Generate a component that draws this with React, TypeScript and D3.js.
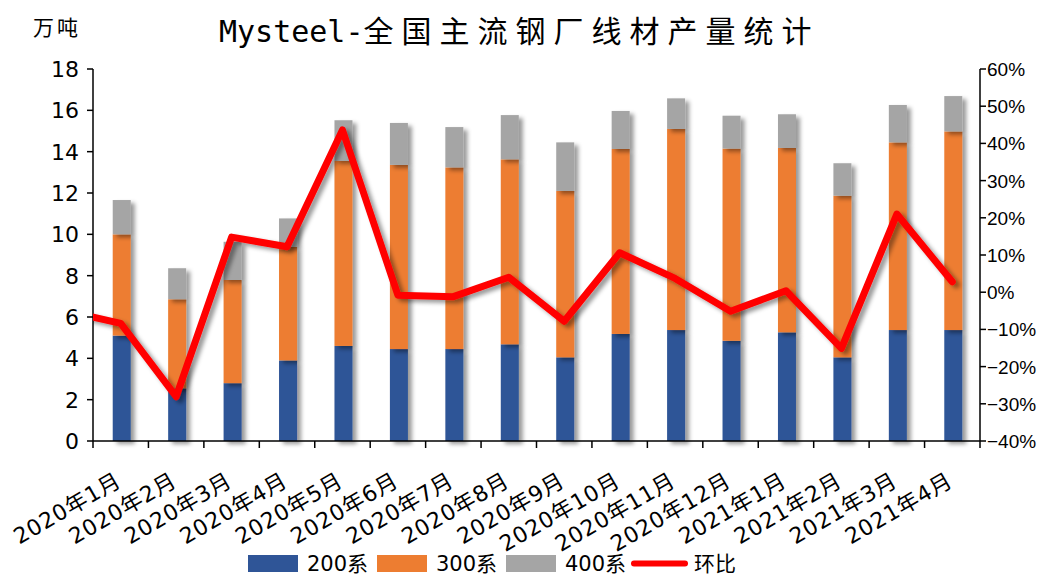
import * as d3 from 'd3';

const months = [
  '2020年1月', '2020年2月', '2020年3月', '2020年4月', '2020年5月', '2020年6月',
  '2020年7月', '2020年8月', '2020年9月', '2020年10月', '2020年11月', '2020年12月',
  '2021年1月', '2021年2月', '2021年3月', '2021年4月',
];

// 万吨
const s200 = [5.1, 2.55, 2.8, 3.9, 4.6, 4.45, 4.45, 4.68, 4.05, 5.18, 5.37, 4.85, 5.26, 4.05, 5.37, 5.37];
const s300 = [4.9, 4.31, 4.99, 5.5, 8.95, 8.91, 8.79, 8.95, 8.05, 8.95, 9.73, 9.3, 8.92, 7.82, 9.08, 9.61];
const s400 = [1.66, 1.5, 1.85, 1.37, 1.97, 2.03, 1.95, 2.14, 2.35, 1.84, 1.48, 1.59, 1.63, 1.57, 1.81, 1.71];

// 环比 (%), first value belongs to the month before the chart window
const hbPrev = -5.0;
const hb = [-8.4, -28.1, 14.8, 12.2, 43.6, -0.8, -1.2, 4.0, -7.8, 10.6, 3.7, -5.1, 0.4, -15.1, 21.0, 2.8];

const leftTicks = [0, 2, 4, 6, 8, 10, 12, 14, 16, 18];
const rightTicks = [-40, -30, -20, -10, 0, 10, 20, 30, 40, 50, 60];

const colors = { s200: '#2F5597', s300: '#ED7D31', s400: '#A5A5A5', hb: '#FF0000' };
const seriesNames = ['200系', '300系', '400系', '环比'];

const W = 1040, H = 576;
const m = { left: 93, right: 980, top: 69, bottom: 441 };
const FONT = 'DejaVu Sans, "Noto Sans CJK SC", sans-serif';

export default function App() {
  const x = d3.scaleBand<string>().domain(months).range([m.left, m.right]).padding(0);
  const y = d3.scaleLinear().domain([0, 18]).range([m.bottom, m.top]);
  const y2 = d3.scaleLinear().domain([-40, 60]).range([m.bottom, m.top]);
  const bw = x.bandwidth();
  const barW = 18;
  const cx = (i: number) => m.left + bw * (i + 0.5);

  const stackData = months.map((mo, i) => ({ month: mo, s200: s200[i], s300: s300[i], s400: s400[i] }));
  const stack = d3.stack<any>().keys(['s200', 's300', 's400'])(stackData);

  const linePts: [number, number][] = [[cx(-1), y2(hbPrev)], ...hb.map((v, i) => [cx(i), y2(v)] as [number, number])];
  const line = d3.line()(linePts) || '';

  const legend = [
    { x: 248, key: 's200', name: seriesNames[0] },
    { x: 377, key: 's300', name: seriesNames[1] },
    { x: 506, key: 's400', name: seriesNames[2] },
  ];

  return (
    <svg width={W} height={H} style={{ position: 'absolute', left: 0, top: 0, background: '#fff' }}>
      <defs>
        <filter id="shadow" x="-50%" y="-10%" width="200%" height="130%">
          <feDropShadow dx="4" dy="3" stdDeviation="2" floodColor="#000" floodOpacity="0.4" />
        </filter>
        <clipPath id="plot">
          <rect x={m.left} y={0} width={m.right - m.left} height={H} />
        </clipPath>
      </defs>

      <text x={33} y={35} fontFamily='"Noto Sans CJK SC", serif' fontSize={21} letterSpacing={3}>万吨</text>
      <text x={219} y={42} fontFamily='"DejaVu Sans Mono", "Noto Sans CJK SC", monospace' fontSize={30}>
        <tspan>Mysteel-</tspan>
        <tspan letterSpacing={8}>全国主流钢厂线材产量统计</tspan>
      </text>

      {/* bars */}
      {stack.map(layer => (
        <g key={layer.key} fill={(colors as any)[layer.key]} filter="url(#shadow)">
          {layer.map((d, i) => (
            <rect key={i} x={cx(i) - barW / 2 + 1} y={y(d[1])} width={barW} height={y(d[0]) - y(d[1])} />
          ))}
        </g>
      ))}

      {/* axes */}
      <g stroke="#000" strokeWidth={1.5} fill="none">
        <line x1={m.left} x2={m.left} y1={m.top} y2={m.bottom} />
        <line x1={m.right} x2={m.right} y1={m.top} y2={m.bottom} />
        <line x1={m.left} x2={m.right} y1={m.bottom} y2={m.bottom} />
        {leftTicks.map(t => <line key={'l' + t} x1={m.left - 6} x2={m.left} y1={y(t)} y2={y(t)} />)}
        {rightTicks.map(t => <line key={'r' + t} x1={m.right} x2={m.right + 6} y1={y2(t)} y2={y2(t)} />)}
        {d3.range(months.length + 1).map(i => (
          <line key={'b' + i} x1={m.left + bw * i} x2={m.left + bw * i} y1={m.bottom} y2={m.bottom + 7} />
        ))}
      </g>
      <g fontFamily={FONT} fontSize={22} textAnchor="end">
        {leftTicks.map(t => (
          <text key={t} x={m.left - 14} y={y(t) + 8}>{t}</text>
        ))}
      </g>
      <g fontFamily='"Liberation Sans", Arial, sans-serif' fontSize={19}>
        {rightTicks.map(t => (
          <text key={t} x={m.right + 7} y={y2(t) + 7}>{t < 0 ? '\u2212' + Math.abs(t) : t}%</text>
        ))}
      </g>
      <g fontFamily={FONT} fontSize={22} letterSpacing={0.8}>
        {months.map((mo, i) => (
          <text key={mo} transform={`translate(${cx(i) + 2},${m.bottom + 44}) rotate(-30)`} textAnchor="end">{mo}</text>
        ))}
      </g>

      {/* 环比 line */}
      <g clipPath="url(#plot)">
        <path d={line} fill="none" stroke={colors.hb} strokeWidth={7} strokeLinejoin="round" strokeLinecap="round" filter="url(#shadow)" />
      </g>

      {/* legend */}
      <g fontFamily={FONT} fontSize={21}>
        {legend.map(l => (
          <g key={l.key}>
            <rect x={l.x} y={555} width={50} height={17} fill={(colors as any)[l.key]} />
            <text x={l.x + 59} y={571}>{l.name}</text>
          </g>
        ))}
        <line x1={634} x2={685} y1={563.5} y2={563.5} stroke={colors.hb} strokeWidth={6} strokeLinecap="round" />
        <text x={694} y={571}>{seriesNames[3]}</text>
      </g>
    </svg>
  );
}
